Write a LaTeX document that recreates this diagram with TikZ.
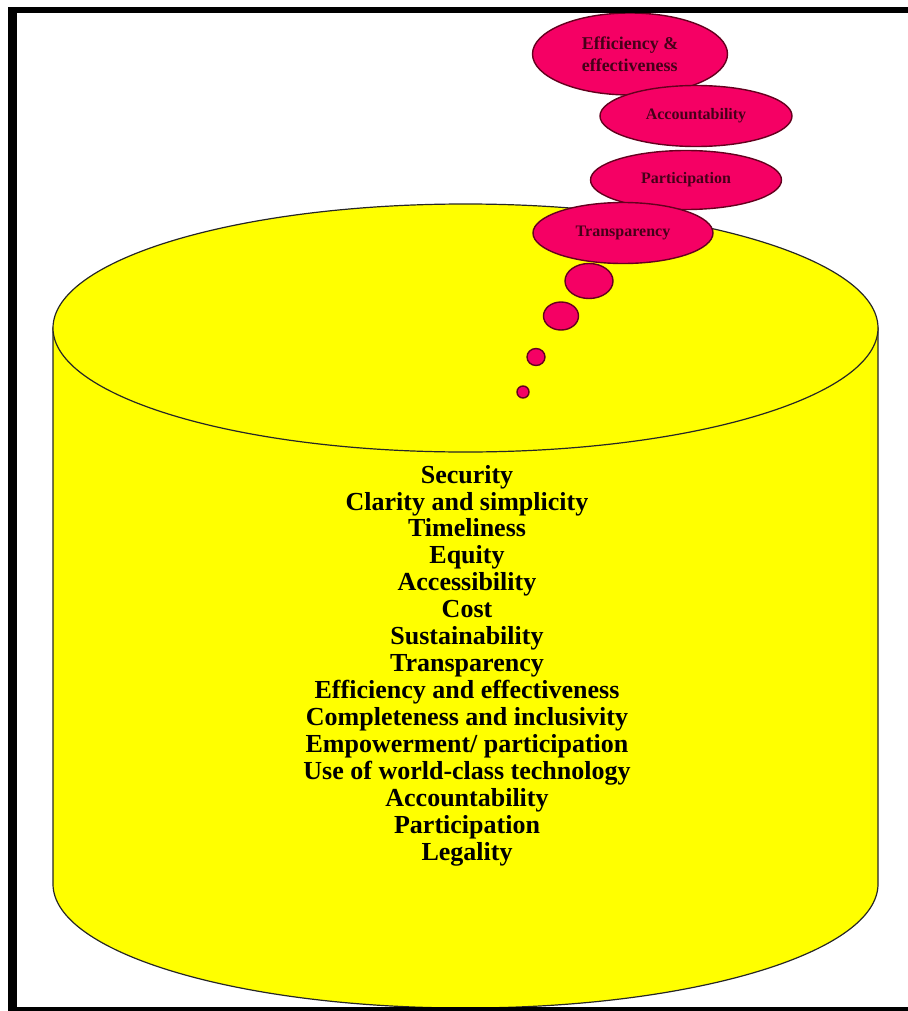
\documentclass[tikz,border=0pt]{standalone}
\usepackage{fontspec}
\setmainfont{Liberation Serif}
\usepackage{tikz}
\usetikzlibrary{positioning, shapes.geometric}
\definecolor{drumyellow}{RGB}{255,255,0}
\definecolor{bubblepink}{RGB}{245,0,100}
\definecolor{bubbleedge}{RGB}{100,0,30}
\definecolor{bubbletext}{RGB}{70,0,25}
\tikzset{
  bubble/.style = {ellipse, draw=bubbleedge, fill=bubblepink, line width=0.7pt,
                   inner sep=0pt, align=left, text=bubbletext,
                   font=\fontsize{8}{11}\selectfont\bfseries},
  bead/.style   = {ellipse, draw=bubbleedge, fill=bubblepink, line width=0.7pt,
                   inner sep=0pt},
  drum/.style   = {draw=black!85, fill=drumyellow, line width=0.6pt},
  valuelist/.style = {align=center, text=black,
                   font=\fontsize{13}{13.47}\selectfont\bfseries}
}

\begin{document}
\begin{tikzpicture}[x=0.5pt, y=-0.5pt]
\useasboundingbox (0,0) rectangle (908,1011);

% the drum
\path[drum] (53,328) -- (53,884)
  arc[start angle=180, end angle=360, x radius=206.25pt, y radius=62pt]
  -- (878,328) -- cycle;
\node[drum, ellipse, inner sep=0pt, minimum width=412.5pt, minimum height=124pt]
  (lid) at (465.5,328) {};

\node[valuelist] (values) at (467,665.5) {Security\\ Clarity and simplicity\\ Timeliness\\
  Equity\\ Accessibility\\ Cost\\ Sustainability\\ Transparency\\
  Efficiency and effectiveness\\ Completeness and inclusivity\\
  Empowerment/ participation\\ Use of world-class technology\\
  Accountability\\ Participation\\ Legality};

% rising bubbles
\node[bead, minimum width=6pt, minimum height=6pt]      (b1) at (523,392) {};
\node[bead, minimum width=9pt, minimum height=8.5pt]    (b2) at (536,357) {};
\node[bead, minimum width=17.5pt, minimum height=14pt]  (b3) at (561,316) {};
\node[bead, minimum width=24pt, minimum height=17.5pt]  (b4) at (589,281) {};

\node[bubble, minimum width=97.5pt, minimum height=41pt,
      font=\fontsize{9}{11}\selectfont\bfseries]         (eff) at (630,54)  {Efficiency \&\\ effectiveness};
\node[bubble, minimum width=96pt, minimum height=30.5pt]   (acc) at (696,116) {Accountability};
\node[bubble, minimum width=95.5pt, minimum height=29.5pt] (par) at (686,180) {Participation};
\node[bubble, minimum width=90pt, minimum height=30.5pt]   (tra) at (623,233) {Transparency};

% frame
\fill (8,7) rectangle (908,13);
\fill (8,7) rectangle (17,1011);
\fill (8,1007) rectangle (908,1011);
\end{tikzpicture}
\end{document}
